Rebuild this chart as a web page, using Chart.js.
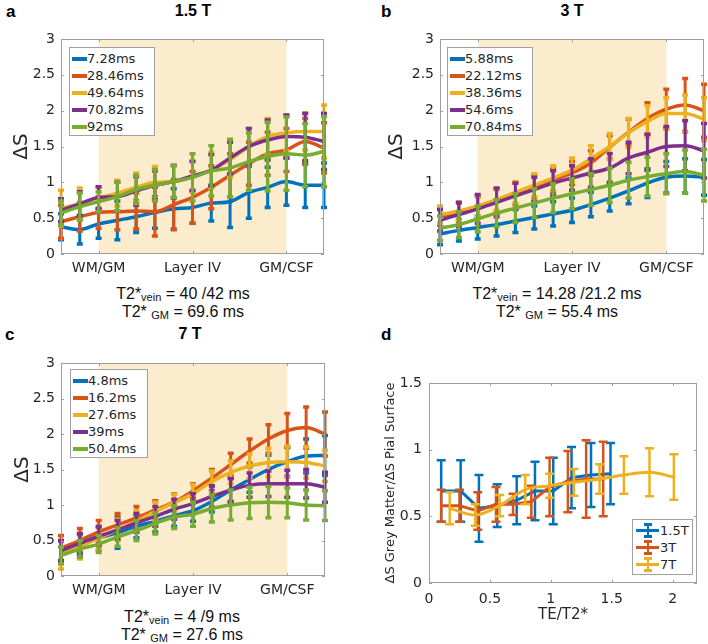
<!DOCTYPE html>
<html>
<head>
<meta charset="utf-8">
<script src="https://cdn.jsdelivr.net/npm/chart.js@4.4.1/dist/chart.umd.min.js"></script>
<style>
  html, body { margin:0; padding:0; background:#fff; }
  body { width:708px; height:644px; position:relative; overflow:hidden; font-family:"Liberation Sans", Arial, sans-serif; color:#000; }
  .cbox { position:absolute; }
  .cbox canvas { display:block; }
  .plabel { position:absolute; font-weight:bold; font-size:17px; line-height:17px; }
  .ptitle { position:absolute; font-weight:bold; font-size:16px; line-height:16px; transform:translateX(-50%); white-space:nowrap; }
  .foot { position:absolute; font-size:16px; line-height:18px; transform:translateX(-50%); white-space:nowrap; color:#111; }
  .foot sub { font-size:11px; vertical-align:-2px; }
  .leg { position:absolute; box-sizing:border-box; border:1px solid #a0a0a0; background:#fff; font-family:"DejaVu Sans", sans-serif; font-size:13px; color:#262626; padding-top:2px; }
  .leg .row { position:relative; height:17px; line-height:17px; white-space:nowrap; }
  .leg .sw { position:absolute; top:7px; height:4px; }
  .leg .tx { position:absolute; top:0; }
  .leg .eb { position:absolute; }
</style>
</head>
<body>

<div class="plabel" style="left:6px; top:3px;">a</div>
<div class="plabel" style="left:381px; top:3px;">b</div>
<div class="plabel" style="left:5px; top:326px;">c</div>
<div class="plabel" style="left:381px; top:326px;">d</div>

<div class="ptitle" style="left:193px; top:3px;">1.5 T</div>
<div class="ptitle" style="left:572px; top:3px;">3 T</div>
<div class="ptitle" style="left:190px; top:326px;">7 T</div>

<div class="foot" style="left:183px; top:285px;">T2*<sub>vein</sub> = 40 /42 ms</div>
<div class="foot" style="left:183px; top:303px;">T2* <sub>GM</sub> = 69.6 ms</div>
<div class="foot" style="left:557px; top:285px;">T2*<sub>vein</sub> = 14.28 /21.2 ms</div>
<div class="foot" style="left:557px; top:303px;">T2* <sub>GM</sub> = 55.4 ms</div>
<div class="foot" style="left:182px; top:608px;">T2*<sub>vein</sub> = 4 /9 ms</div>
<div class="foot" style="left:182px; top:626px;">T2* <sub>GM</sub> = 27.6 ms</div>

<div class="cbox" style="left:0px; top:0px; width:340px; height:282px;"><canvas id="cA"></canvas></div>
<div class="cbox" style="left:360px; top:0px; width:348px; height:282px;"><canvas id="cB"></canvas></div>
<div class="cbox" style="left:0px; top:322px; width:340px; height:282px;"><canvas id="cC"></canvas></div>
<div class="cbox" style="left:354px; top:322px; width:354px; height:322px;"><canvas id="cD"></canvas></div>

<div class="leg" id="legA" style="left:69px; top:47px; width:86px; height:89px;"></div>
<div class="leg" id="legB" style="left:447px; top:47px; width:86px; height:89px;"></div>
<div class="leg" id="legC" style="left:70px; top:369px; width:78px; height:89px;"></div>
<div class="leg" id="legD" style="left:632px; top:519px; width:61px; height:56px;"></div>

<script>
// ---------------- DATA ----------------
// cortical depth sample positions (WM side -> CSF side)
const depthPos = [0, 1, 2, 3, 4, 5, 6, 7, 8, 9, 10, 11, 12, 13, 14];
const depthTickPos = [2, 7, 12];
const depthTickLabels = ['WM/GM', 'Layer IV', 'GM/CSF'];
const greyMatterFrom = 2;
const greyMatterTo = 12;
const dSTicks = [0, 0.5, 1, 1.5, 2, 2.5, 3];

// Panel a: 1.5 T
const te15 = ['7.28ms', '28.46ms', '49.64ms', '70.82ms', '92ms'];
const a_te1 = [0.38, 0.34, 0.42, 0.47, 0.52, 0.58, 0.63, 0.65, 0.71, 0.73, 0.86, 0.93, 1.01, 0.96, 0.96];
const a_te1Err = [0.18, 0.20, 0.20, 0.27, 0.22, 0.22, 0.28, 0.22, 0.25, 0.36, 0.36, 0.28, 0.33, 0.31, 0.31];
const a_te2 = [0.45, 0.52, 0.58, 0.59, 0.60, 0.59, 0.69, 0.79, 0.93, 1.10, 1.26, 1.40, 1.45, 1.57, 1.48];
const a_te2Err = [0.23, 0.20, 0.22, 0.25, 0.25, 0.34, 0.35, 0.36, 0.30, 0.30, 0.30, 0.30, 0.30, 0.32, 0.35];
const a_te3 = [0.64, 0.70, 0.78, 0.85, 0.93, 1.00, 1.01, 1.08, 1.17, 1.32, 1.50, 1.64, 1.69, 1.71, 1.71];
const a_te3Err = [0.25, 0.22, 0.15, 0.18, 0.20, 0.22, 0.22, 0.22, 0.25, 0.25, 0.25, 0.25, 0.25, 0.26, 0.37];
const a_te4 = [0.61, 0.70, 0.79, 0.80, 0.88, 0.96, 1.01, 1.09, 1.17, 1.34, 1.50, 1.59, 1.64, 1.63, 1.57];
const a_te4Err = [0.16, 0.17, 0.15, 0.20, 0.20, 0.20, 0.23, 0.20, 0.22, 0.22, 0.25, 0.28, 0.30, 0.33, 0.39];
const a_te5 = [0.57, 0.66, 0.73, 0.80, 0.90, 0.96, 1.01, 1.07, 1.16, 1.20, 1.29, 1.36, 1.40, 1.38, 1.43];
const a_te5Err = [0.17, 0.19, 0.14, 0.20, 0.20, 0.22, 0.22, 0.33, 0.35, 0.40, 0.40, 0.48, 0.51, 0.44, 0.49];

// Panel b: 3 T
const te3 = ['5.88ms', '22.12ms', '38.36ms', '54.6ms', '70.84ms'];
const b_te1 = [0.28, 0.33, 0.37, 0.41, 0.46, 0.51, 0.56, 0.61, 0.69, 0.78, 0.88, 0.99, 1.07, 1.09, 1.07];
const b_te1Err = [0.15, 0.15, 0.16, 0.16, 0.16, 0.16, 0.17, 0.17, 0.17, 0.18, 0.18, 0.20, 0.22, 0.24, 0.25];
const b_te2 = [0.52, 0.58, 0.65, 0.74, 0.84, 0.94, 1.03, 1.13, 1.27, 1.49, 1.70, 1.89, 2.02, 2.08, 2.00];
const b_te2Err = [0.12, 0.13, 0.15, 0.16, 0.15, 0.16, 0.16, 0.16, 0.17, 0.16, 0.18, 0.22, 0.28, 0.37, 0.37];
const b_te3 = [0.55, 0.60, 0.67, 0.76, 0.86, 0.96, 1.06, 1.17, 1.33, 1.50, 1.69, 1.85, 1.96, 1.96, 1.88];
const b_te3Err = [0.12, 0.13, 0.14, 0.15, 0.15, 0.16, 0.17, 0.17, 0.18, 0.18, 0.20, 0.22, 0.22, 0.26, 0.30];
const b_te4 = [0.47, 0.55, 0.63, 0.72, 0.81, 0.90, 0.99, 1.06, 1.13, 1.20, 1.34, 1.42, 1.50, 1.51, 1.44];
const b_te4Err = [0.15, 0.17, 0.20, 0.20, 0.18, 0.17, 0.17, 0.17, 0.20, 0.20, 0.22, 0.25, 0.28, 0.35, 0.38];
const b_te5 = [0.36, 0.41, 0.49, 0.57, 0.64, 0.71, 0.78, 0.84, 0.90, 0.96, 1.03, 1.08, 1.12, 1.15, 1.10];
const b_te5Err = [0.17, 0.18, 0.18, 0.19, 0.20, 0.20, 0.20, 0.21, 0.22, 0.24, 0.25, 0.27, 0.28, 0.30, 0.36];

// Panel c: 7 T
const te7 = ['4.8ms', '16.2ms', '27.6ms', '39ms', '50.4ms'];
const c_te1 = [0.34, 0.43, 0.53, 0.61, 0.70, 0.77, 0.85, 0.92, 1.05, 1.21, 1.36, 1.50, 1.61, 1.69, 1.70];
const c_te1Err = [0.15, 0.15, 0.17, 0.22, 0.16, 0.15, 0.15, 0.15, 0.15, 0.17, 0.18, 0.20, 0.21, 0.24, 0.28];
const c_te2 = [0.39, 0.50, 0.62, 0.72, 0.82, 0.93, 1.04, 1.20, 1.38, 1.57, 1.76, 1.93, 2.05, 2.09, 2.00];
const c_te2Err = [0.18, 0.17, 0.16, 0.16, 0.16, 0.13, 0.12, 0.10, 0.12, 0.16, 0.17, 0.20, 0.24, 0.29, 0.31];
const c_te3 = [0.30, 0.42, 0.53, 0.65, 0.77, 0.91, 1.03, 1.16, 1.33, 1.46, 1.55, 1.60, 1.61, 1.60, 1.55];
const c_te3Err = [0.20, 0.18, 0.15, 0.15, 0.15, 0.13, 0.12, 0.13, 0.15, 0.16, 0.17, 0.20, 0.22, 0.22, 0.22];
const c_te4 = [0.36, 0.46, 0.56, 0.65, 0.75, 0.84, 0.94, 1.02, 1.12, 1.21, 1.28, 1.30, 1.30, 1.30, 1.25];
const c_te4Err = [0.14, 0.14, 0.13, 0.13, 0.13, 0.14, 0.14, 0.14, 0.15, 0.16, 0.17, 0.18, 0.19, 0.20, 0.21];
const c_te5 = [0.29, 0.38, 0.45, 0.55, 0.64, 0.74, 0.83, 0.87, 0.95, 1.00, 1.03, 1.04, 1.03, 1.00, 0.99];
const c_te5Err = [0.12, 0.12, 0.12, 0.13, 0.14, 0.15, 0.16, 0.17, 0.19, 0.21, 0.22, 0.22, 0.21, 0.21, 0.21];

// Panel d: ratio vs TE/T2*
const fieldLabels = ['1.5T', '3T', '7T'];
const d_x15 = [0.10, 0.26, 0.41, 0.56, 0.72, 0.87, 1.02, 1.17, 1.33, 1.49];
const d_y15 = [0.69, 0.69, 0.56, 0.58, 0.62, 0.69, 0.69, 0.79, 0.81, 0.82];
const d_e15 = [0.23, 0.23, 0.25, 0.16, 0.18, 0.22, 0.25, 0.23, 0.24, 0.23];
const d_x3 = [0.10, 0.25, 0.40, 0.55, 0.69, 0.84, 0.99, 1.14, 1.29, 1.43];
const d_y3 = [0.58, 0.58, 0.54, 0.59, 0.59, 0.61, 0.72, 0.76, 0.78, 0.78];
const d_e3 = [0.12, 0.12, 0.14, 0.13, 0.08, 0.12, 0.22, 0.23, 0.29, 0.28];
const d_x7 = [0.17, 0.38, 0.58, 0.79, 0.99, 1.19, 1.40, 1.60, 1.81, 2.01];
const d_y7 = [0.56, 0.51, 0.58, 0.70, 0.73, 0.755, 0.78, 0.81, 0.83, 0.795];
const d_e7 = [0.12, 0.08, 0.08, 0.11, 0.09, 0.10, 0.11, 0.14, 0.18, 0.17];
const dTicksX = [0, 0.5, 1, 1.5, 2];
const dTicksY = [0, 0.5, 1, 1.5];

// ---------------- STYLE ----------------
const COLORS = ['#0072BD', '#D95319', '#EDB120', '#7E2F8E', '#77AC30'];
const SHADE = 'rgb(250,236,205)';
const FRAME = '#9e9e9e';
const TXT = '#262626';

Chart.defaults.font.family = '"DejaVu Sans", sans-serif';
Chart.defaults.font.size = 14;
Chart.defaults.color = TXT;
Chart.defaults.animation = false;

// ---------------- PLUGINS ----------------
const shadePlugin = {
  id: 'shade',
  beforeDatasetsDraw(chart, args, opts) {
    if (opts.from === undefined) return;
    const { ctx, chartArea: a, scales: { x } } = chart;
    const x0 = x.getPixelForValue(opts.from), x1 = x.getPixelForValue(opts.to);
    ctx.save();
    ctx.fillStyle = opts.color;
    ctx.fillRect(x0, a.top, x1 - x0, a.bottom - a.top);
    ctx.restore();
  }
};

const errPlugin = {
  id: 'errbars',
  afterDatasetDraw(chart, args) {
    const ds = chart.data.datasets[args.index];
    if (!ds.errors) return;
    const y = chart.scales.y, ctx = chart.ctx;
    ctx.save();
    ctx.strokeStyle = ds.borderColor;
    ctx.lineWidth = ds.errWidth;
    ctx.lineCap = 'butt';
    args.meta.data.forEach((pt, i) => {
      const v = ds.data[i].y, e = ds.errors[i];
      const yt = y.getPixelForValue(v + e), yb = y.getPixelForValue(v - e);
      const c = ds.capHalf;
      ctx.beginPath();
      ctx.moveTo(pt.x, yt); ctx.lineTo(pt.x, yb);
      ctx.stroke();
      ctx.lineWidth = ds.capWidth;
      ctx.beginPath();
      ctx.moveTo(pt.x - c, yt); ctx.lineTo(pt.x + c, yt);
      ctx.moveTo(pt.x - c, yb); ctx.lineTo(pt.x + c, yb);
      ctx.stroke();
      ctx.lineWidth = ds.errWidth;
    });
    ctx.restore();
  }
};

const framePlugin = {
  id: 'frame',
  afterDraw(chart) {
    const { ctx, chartArea: a, scales: { x, y } } = chart;
    const L = 3;
    ctx.save();
    ctx.strokeStyle = FRAME;
    ctx.lineWidth = 1;
    ctx.strokeRect(Math.round(a.left) + 0.5, Math.round(a.top) + 0.5,
                   Math.round(a.right - a.left) - 1, Math.round(a.bottom - a.top) - 1);
    ctx.beginPath();
    x.ticks.forEach(t => {
      const px = Math.round(x.getPixelForValue(t.value)) + 0.5;
      ctx.moveTo(px, a.bottom); ctx.lineTo(px, a.bottom - L);
      ctx.moveTo(px, a.top); ctx.lineTo(px, a.top + L);
    });
    y.ticks.forEach(t => {
      const py = Math.round(y.getPixelForValue(t.value)) + 0.5;
      ctx.moveTo(a.left, py); ctx.lineTo(a.left + L, py);
      ctx.moveTo(a.right, py); ctx.lineTo(a.right - L, py);
    });
    ctx.stroke();
    ctx.restore();
  }
};

// ---------------- BUILDERS ----------------
function pts(xs, ys) { return xs.map((xv, i) => ({ x: xv, y: ys[i] })); }

function depthChart(id, labels, means, errs, geo) {
  const datasets = means.map((m, k) => ({
    label: labels[k],
    data: pts(depthPos, m),
    errors: errs[k],
    errWidth: 3,
    capWidth: 3.5,
    capHalf: 3,
    borderColor: COLORS[k],
    backgroundColor: COLORS[k],
    borderWidth: 3.5,
    pointRadius: 0,
    cubicInterpolationMode: 'monotone',
    order: means.length - k
  }));
  return new Chart(document.getElementById(id), {
    type: 'line',
    data: { datasets },
    plugins: [shadePlugin, errPlugin, framePlugin],
    options: {
      responsive: true,
      maintainAspectRatio: false,
      layout: { padding: { top: geo.top, right: geo.right, left: 0, bottom: 0 } },
      plugins: {
        legend: { display: false },
        tooltip: { enabled: false },
        shade: { from: greyMatterFrom, to: greyMatterTo, color: SHADE }
      },
      scales: {
        x: {
          type: 'linear', min: depthPos[0], max: depthPos[depthPos.length - 1],
          grid: { display: false, drawTicks: false }, border: { display: false },
          afterBuildTicks: s => { s.ticks = depthTickPos.map(v => ({ value: v })); },
          afterFit: s => { s.height = geo.xh; },
          ticks: {
            padding: 6, maxRotation: 0, autoSkip: false,
            font: { size: 14 },
            callback: v => depthTickLabels[depthTickPos.indexOf(v)]
          }
        },
        y: {
          type: 'linear', min: dSTicks[0], max: dSTicks[dSTicks.length - 1],
          grid: { display: false, drawTicks: false }, border: { display: false },
          afterBuildTicks: s => { s.ticks = dSTicks.map(v => ({ value: v })); },
          afterFit: s => { s.width = geo.yw; },
          ticks: { padding: 6, font: { size: 14 }, callback: v => String(v) },
          title: { display: true, text: 'ΔS', font: { size: 20 }, padding: { top: geo.tpad, bottom: 0 }, color: TXT }
        }
      }
    }
  });
}

depthChart('cA', te15, [a_te1, a_te2, a_te3, a_te4, a_te5], [a_te1Err, a_te2Err, a_te3Err, a_te4Err, a_te5Err],
           { top: 39, right: 16, xh: 28, yw: 61, tpad: 10 });
depthChart('cB', te3, [b_te1, b_te2, b_te3, b_te4, b_te5], [b_te1Err, b_te2Err, b_te3Err, b_te4Err, b_te5Err],
           { top: 39, right: 4, xh: 28, yw: 80, tpad: 25 });
depthChart('cC', te7, [c_te1, c_te2, c_te3, c_te4, c_te5], [c_te1Err, c_te2Err, c_te3Err, c_te4Err, c_te5Err],
           { top: 41, right: 15, xh: 28, yw: 61, tpad: 11 });

// Panel d
(function () {
  const xs = [d_x15, d_x3, d_x7], ys = [d_y15, d_y3, d_y7], es = [d_e15, d_e3, d_e7];
  const datasets = xs.map((xv, k) => ({
    label: fieldLabels[k],
    data: pts(xv, ys[k]),
    errors: es[k],
    errWidth: 2.5,
    capWidth: 2.5,
    capHalf: 4.5,
    borderColor: COLORS[k],
    backgroundColor: COLORS[k],
    borderWidth: 3,
    pointRadius: 0,
    tension: 0,
    cubicInterpolationMode: k === 2 ? 'monotone' : 'default',
    order: xs.length - k
  }));
  new Chart(document.getElementById('cD'), {
    type: 'line',
    data: { datasets },
    plugins: [errPlugin, framePlugin],
    options: {
      responsive: true,
      maintainAspectRatio: false,
      layout: { padding: { top: 61, right: 11, left: 0, bottom: 0 } },
      plugins: { legend: { display: false }, tooltip: { enabled: false } },
      scales: {
        x: {
          type: 'linear', min: 0, max: 2.2,
          grid: { display: false, drawTicks: false }, border: { display: false },
          afterBuildTicks: s => { s.ticks = dTicksX.map(v => ({ value: v })); },
          afterFit: s => { s.height = 61; },
          ticks: { padding: 8, maxRotation: 0, autoSkip: false, font: { size: 14 }, callback: v => String(v) },
          title: { display: true, text: 'TE/T2*', font: { size: 15 }, padding: { top: 0, bottom: 20 }, color: TXT }
        },
        y: {
          type: 'linear', min: 0, max: 1.5,
          grid: { display: false, drawTicks: false }, border: { display: false },
          afterBuildTicks: s => { s.ticks = dTicksY.map(v => ({ value: v })); },
          afterFit: s => { s.width = 75; },
          ticks: { padding: 7, font: { size: 14 }, callback: v => String(v) },
          title: { display: true, text: 'ΔS Grey Matter/ΔS Pial Surface', font: { size: 13 }, padding: { top: 29, bottom: 0 }, color: TXT }
        }
      }
    }
  });
})();

// ---------------- HTML LEGENDS ----------------
function lineLegend(id, labels) {
  const el = document.getElementById(id);
  labels.forEach((t, k) => {
    const r = document.createElement('div'); r.className = 'row';
    r.innerHTML = '<div class="sw" style="left:2px;width:15px;background:' + COLORS[k] + '"></div>' +
                  '<div class="tx" style="left:17px">' + t + '</div>';
    el.appendChild(r);
  });
}
lineLegend('legA', te15);
lineLegend('legB', te3);
lineLegend('legC', te7);

(function () {
  const el = document.getElementById('legD');
  fieldLabels.forEach((t, k) => {
    const r = document.createElement('div'); r.className = 'row';
    const c = COLORS[k];
    r.innerHTML =
      '<div class="eb" style="left:3px;top:7px;width:23px;height:3px;background:' + c + '"></div>' +
      '<div class="eb" style="left:13.5px;top:1px;width:2.5px;height:14px;background:' + c + '"></div>' +
      '<div class="eb" style="left:11px;top:1px;width:7.5px;height:2.5px;background:' + c + '"></div>' +
      '<div class="eb" style="left:11px;top:13px;width:7.5px;height:2.5px;background:' + c + '"></div>' +
      '<div class="tx" style="left:27px">' + t + '</div>';
    el.appendChild(r);
  });
})();
</script>
</body>
</html>
